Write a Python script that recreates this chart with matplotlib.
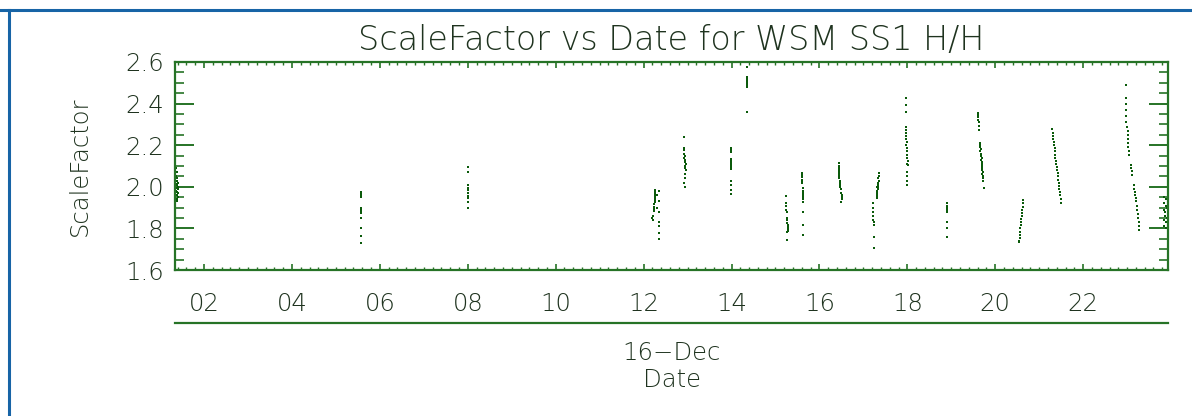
import matplotlib
matplotlib.use("Agg")
import matplotlib.pyplot as plt
from matplotlib.lines import Line2D
from matplotlib.ticker import MultipleLocator, FixedLocator, FixedFormatter

# ---------------- data (hours of 16-Dec, ScaleFactor) ----------------
title = "ScaleFactor vs Date for WSM SS1 H/H"
x_tick_values = [2, 4, 6, 8, 10, 12, 14, 16, 18, 20, 22]
x_tick_labels = ["02", "04", "06", "08", "10", "12", "14", "16", "18", "20", "22"]
day_label = "16\u2212Dec"
x_label = "Date"
y_label = "ScaleFactor"

pass01_t = [1.37, 1.38, 1.37, 1.39, 1.38, 1.40, 1.37, 1.39, 1.41, 1.38, 1.40, 1.37, 1.39, 1.41, 1.38, 1.40, 1.39, 1.38]
pass01_v = [2.09, 2.07, 2.05, 2.04, 2.03, 2.02, 2.015, 2.01, 2.00, 1.995, 1.99, 1.98, 1.975, 1.97, 1.96, 1.95, 1.94, 1.93]

pass02_t = [5.57, 5.58, 5.57, 5.58, 5.57, 5.57, 5.57, 5.57, 5.57, 5.57, 5.57, 5.57, 5.57, 5.57]
pass02_v = [1.975, 1.97, 1.965, 1.96, 1.955, 1.95, 1.90, 1.893, 1.885, 1.875, 1.85, 1.80, 1.765, 1.73]

pass03_t = [8.00, 8.00, 8.00, 8.00, 8.00, 8.01, 8.00, 8.00, 8.00, 8.00]
pass03_v = [2.094, 2.07, 2.007, 1.995, 1.983, 1.969, 1.955, 1.945, 1.925, 1.90]

pass04_t = [12.27, 12.26, 12.26, 12.25, 12.26, 12.25, 12.25, 12.24, 12.24, 12.23, 12.23,
            12.21, 12.20, 12.21, 12.35, 12.35, 12.35, 12.35, 12.35, 12.35, 12.35, 12.30, 12.30]
pass04_v = [1.985, 1.975, 1.965, 1.955, 1.945, 1.935, 1.925, 1.915, 1.905, 1.895, 1.885,
            1.86, 1.85, 1.84, 1.98, 1.93, 1.88, 1.83, 1.81, 1.78, 1.75, 1.96, 1.90]

pass05_t = [12.92, 12.92, 12.93, 12.92, 12.94, 12.93, 12.95, 12.94, 12.96, 12.95, 12.95, 12.96,
            12.94, 12.95, 12.93, 12.94]
pass05_v = [2.24, 2.185, 2.175, 2.16, 2.15, 2.14, 2.13, 2.12, 2.11, 2.10, 2.09, 2.08,
            2.06, 2.04, 2.02, 2.00]

pass06_t = [13.99, 13.99, 13.99, 13.99, 13.99, 13.99, 13.99, 13.99, 13.99, 13.99, 13.99, 13.99, 13.99]
pass06_v = [2.185, 2.175, 2.165, 2.135, 2.125, 2.115, 2.105, 2.095, 2.085, 2.03, 2.007, 1.983, 1.964]

pass07_t = [14.36, 14.36, 14.36, 14.36, 14.36, 14.36, 14.36, 14.36]
pass07_v = [2.576, 2.528, 2.518, 2.508, 2.498, 2.488, 2.478, 2.359]

pass08_t = [15.24, 15.25, 15.25, 15.25, 15.26, 15.27, 15.27, 15.27, 15.28, 15.28, 15.28, 15.28, 15.27, 15.26]
pass08_v = [1.954, 1.92, 1.91, 1.89, 1.877, 1.848, 1.838, 1.828, 1.818, 1.808, 1.798, 1.788, 1.781, 1.742]

pass09_t = [15.61, 15.61, 15.61, 15.61, 15.61, 15.61, 15.62, 15.63, 15.62, 15.63, 15.62, 15.63, 15.62,
            15.62, 15.62, 15.62]
pass09_v = [2.065, 2.055, 2.045, 2.035, 2.025, 2.017, 1.993, 1.98, 1.97, 1.96, 1.95, 1.94, 1.925,
            1.877, 1.815, 1.766]

pass10_t = [16.44, 16.44, 16.44, 16.44, 16.44, 16.44, 16.44, 16.45, 16.46, 16.47, 16.46, 16.47,
            16.48, 16.50, 16.51, 16.51, 16.51, 16.50]
pass10_v = [2.113, 2.10, 2.09, 2.08, 2.07, 2.06, 2.05, 2.04, 2.03, 2.02, 2.01, 2.00,
            1.99, 1.97, 1.96, 1.95, 1.94, 1.925]

pass11_t = [17.36, 17.35, 17.34, 17.35, 17.33, 17.34, 17.32, 17.33, 17.31, 17.32, 17.30, 17.31, 17.30,
            17.33, 17.32, 17.31,
            17.22, 17.22, 17.22, 17.22, 17.23, 17.24, 17.24, 17.24, 17.24]
pass11_v = [2.065, 2.05, 2.04, 2.03, 2.02, 2.01, 2.00, 1.99, 1.98, 1.97, 1.96, 1.955, 1.945,
            2.00, 1.98, 1.96,
            1.92, 1.90, 1.88, 1.86, 1.84, 1.83, 1.815, 1.757, 1.708]

pass12_t = [17.96, 17.97, 17.96, 17.97, 17.97, 17.97, 17.98, 17.98, 17.99, 17.98, 17.99, 18.00, 17.99,
            18.00, 18.01, 18.00, 18.01, 18.00, 18.00, 18.00, 18.00]
pass12_v = [2.426, 2.393, 2.359, 2.287, 2.275, 2.26, 2.245, 2.23, 2.215, 2.20, 2.185, 2.17, 2.155,
            2.14, 2.125, 2.11, 2.104, 2.07, 2.05, 2.03, 2.007]

pass13_t = [18.90, 18.90, 18.90, 18.90, 18.90, 18.90, 18.90, 18.90]
pass13_v = [1.92, 1.91, 1.90, 1.89, 1.877, 1.829, 1.80, 1.757]

pass14_t = [19.60, 19.60, 19.61, 19.61, 19.62, 19.62, 19.63,
            19.65, 19.66, 19.65, 19.67, 19.66, 19.68, 19.67, 19.69, 19.68, 19.70, 19.69, 19.70,
            19.71, 19.70, 19.72, 19.71, 19.72, 19.72, 19.72, 19.74]
pass14_v = [2.354, 2.345, 2.335, 2.32, 2.31, 2.29, 2.272,
            2.21, 2.20, 2.19, 2.18, 2.17, 2.16, 2.15, 2.14, 2.13, 2.12, 2.11, 2.10,
            2.09, 2.08, 2.07, 2.06, 2.05, 2.04, 2.03, 1.993]

pass15_t = [20.63, 20.62, 20.62, 20.61, 20.60, 20.60, 20.59, 20.58, 20.58, 20.57, 20.57, 20.56,
            20.56, 20.55, 20.55]
pass15_v = [1.935, 1.92, 1.905, 1.89, 1.875, 1.86, 1.845, 1.83, 1.815, 1.80, 1.785, 1.77,
            1.755, 1.74, 1.733]

pass16_t = [21.30, 21.31, 21.32, 21.32, 21.33, 21.34, 21.35, 21.35, 21.36, 21.37, 21.38, 21.39,
            21.40, 21.41, 21.42, 21.42, 21.43, 21.44, 21.45, 21.46, 21.47, 21.48, 21.49, 21.50]
pass16_v = [2.277, 2.26, 2.245, 2.23, 2.215, 2.20, 2.185, 2.17, 2.155, 2.14, 2.125, 2.11,
            2.095, 2.08, 2.065, 2.05, 2.035, 2.02, 2.005, 1.99, 1.975, 1.96, 1.94, 1.92]

pass17_t = [22.98, 22.98, 22.98, 22.98, 22.98, 22.98,
            23.00, 23.01, 23.01, 23.02, 23.03, 23.03, 23.04, 23.05,
            23.08, 23.09, 23.11, 23.12,
            23.15, 23.16, 23.17, 23.18,
            23.20, 23.21, 23.22, 23.23, 23.24, 23.25, 23.26, 23.27, 23.28]
pass17_v = [2.489, 2.426, 2.40, 2.37, 2.34, 2.31,
            2.287, 2.27, 2.25, 2.23, 2.21, 2.19, 2.17, 2.152,
            2.104, 2.09, 2.075, 2.055,
            2.007, 1.99, 1.975, 1.959,
            1.945, 1.93, 1.91, 1.89, 1.87, 1.85, 1.83, 1.81, 1.79]

pass18_t = [23.84, 23.88, 23.92, 23.85, 23.89, 23.91, 23.84, 23.87, 23.92, 23.86, 23.90, 23.85,
            23.89, 23.92, 23.84, 23.88]
pass18_v = [1.95, 1.94, 1.93, 1.92, 1.91, 1.90, 1.89, 1.88, 1.87, 1.86, 1.85, 1.84,
            1.83, 1.82, 1.81, 1.80]

passes = [(pass01_t, pass01_v), (pass02_t, pass02_v), (pass03_t, pass03_v), (pass04_t, pass04_v),
          (pass05_t, pass05_v), (pass06_t, pass06_v), (pass07_t, pass07_v), (pass08_t, pass08_v),
          (pass09_t, pass09_v), (pass10_t, pass10_v), (pass11_t, pass11_v), (pass12_t, pass12_v),
          (pass13_t, pass13_v), (pass14_t, pass14_v), (pass15_t, pass15_v), (pass16_t, pass16_v),
          (pass17_t, pass17_v), (pass18_t, pass18_v)]

# ---------------- styling ----------------
plt.rcParams["font.family"] = ["DejaVu Sans"]
plt.rcParams["font.weight"] = "light"
plt.rcParams["axes.titleweight"] = "light"
plt.rcParams["axes.labelweight"] = "light"

W, H = 1192, 416
fig = plt.figure(figsize=(W / 100, H / 100), dpi=100, facecolor="white")
ax = fig.add_axes([175 / W, 1 - 270 / H, (1168 - 175) / W, (270 - 62) / H])

axis_green = "#267326"
text_col = "#1f331f"
point_col = "#0b5a0b"

for t, v in passes:
    ax.plot(t, v, linestyle="none", marker="s", ms=2.1, mew=0, color=point_col, clip_on=False)

ax.set_xlim(1.34, 23.93)
ax.set_ylim(1.6, 2.6)

for sp in ax.spines.values():
    sp.set_color(axis_green)
    sp.set_linewidth(1.6)

ax.xaxis.set_major_locator(FixedLocator(x_tick_values))
ax.xaxis.set_major_formatter(FixedFormatter(x_tick_labels))
ax.xaxis.set_minor_locator(MultipleLocator(0.2))
ax.yaxis.set_major_locator(MultipleLocator(0.2))
ax.yaxis.set_minor_locator(MultipleLocator(0.05))
ax.yaxis.set_major_formatter(plt.FuncFormatter(lambda v, p: f"{v:.1f}"))

ax.tick_params(axis="x", which="major", direction="in", length=4, width=1.2, color=axis_green,
               top=True, bottom=True, labelsize=17.5, labelcolor=text_col, pad=16)
ax.tick_params(axis="x", which="minor", direction="in", length=2, width=1.0, color=axis_green,
               top=True, bottom=True)
ax.tick_params(axis="y", which="major", direction="in", length=14, width=1.4, color=axis_green,
               left=True, right=True, labelsize=17.5, labelcolor=text_col, pad=8)
ax.tick_params(axis="y", which="minor", direction="in", length=6.5, width=1.2, color=axis_green,
               left=True, right=True)

ax.set_ylabel(y_label, fontsize=17.5, color=text_col)
ax.yaxis.set_label_coords(-0.084, 0.5)

ax.set_title(title, fontsize=24, color=text_col, y=1.06, pad=0)

# underline and date labels below the axis
ax.plot([0, 1], [-0.255, -0.255], transform=ax.transAxes, color=axis_green, lw=1.6, clip_on=False)
ax.text(0.5, -0.40, day_label, transform=ax.transAxes, ha="center", va="center",
        fontsize=17.5, color=text_col)
ax.text(0.5, -0.53, x_label, transform=ax.transAxes, ha="center", va="center",
        fontsize=17.5, color=text_col)

# blue frame (top and left edges)
fig.add_artist(Line2D([0, 1], [1 - 10 / H, 1 - 10 / H], transform=fig.transFigure,
                      color="#1764a6", lw=2.2))
fig.add_artist(Line2D([9 / W, 9 / W], [0, 1 - 10 / H], transform=fig.transFigure,
                      color="#1764a6", lw=2.2))

fig.savefig("out.png", dpi=100, facecolor="white")
